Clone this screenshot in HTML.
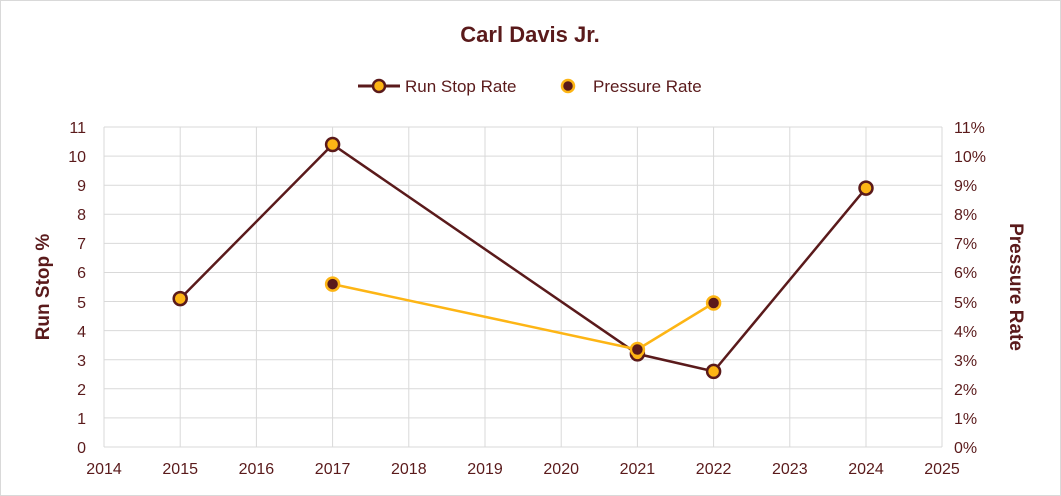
<!DOCTYPE html>
<html><head><style>body{margin:0;background:#fff}svg{display:block}text{font-family:"Liberation Sans",sans-serif;fill:#5a1a1b}</style></head><body>
<svg width="1061" height="496" viewBox="0 0 1061 496">
<rect x="0.5" y="0.5" width="1060" height="495" fill="#fff" stroke="#d9d9d9"/>
<g stroke="#d9d9d9" stroke-width="1">
<line x1="104" y1="447" x2="942" y2="447"/><line x1="104" y1="417.9" x2="942" y2="417.9"/><line x1="104" y1="388.8" x2="942" y2="388.8"/><line x1="104" y1="359.7" x2="942" y2="359.7"/><line x1="104" y1="330.6" x2="942" y2="330.6"/><line x1="104" y1="301.5" x2="942" y2="301.5"/><line x1="104" y1="272.5" x2="942" y2="272.5"/><line x1="104" y1="243.4" x2="942" y2="243.4"/><line x1="104" y1="214.3" x2="942" y2="214.3"/><line x1="104" y1="185.2" x2="942" y2="185.2"/><line x1="104" y1="156.1" x2="942" y2="156.1"/><line x1="104" y1="127" x2="942" y2="127"/>
<line x1="104" y1="127" x2="104" y2="447"/><line x1="180.2" y1="127" x2="180.2" y2="447"/><line x1="256.4" y1="127" x2="256.4" y2="447"/><line x1="332.6" y1="127" x2="332.6" y2="447"/><line x1="408.8" y1="127" x2="408.8" y2="447"/><line x1="485" y1="127" x2="485" y2="447"/><line x1="561.2" y1="127" x2="561.2" y2="447"/><line x1="637.4" y1="127" x2="637.4" y2="447"/><line x1="713.6" y1="127" x2="713.6" y2="447"/><line x1="789.8" y1="127" x2="789.8" y2="447"/><line x1="866" y1="127" x2="866" y2="447"/><line x1="942" y1="127" x2="942" y2="447"/>
</g>
<text x="530" y="42" text-anchor="middle" font-size="22" font-weight="bold">Carl Davis Jr.</text>
<line x1="358" y1="86" x2="400" y2="86" stroke="#5a1a1b" stroke-width="3"/><circle cx="379" cy="86" r="6" fill="#fdb515" stroke="#5a1a1b" stroke-width="2.5"/>
<text x="405" y="92" font-size="17">Run Stop Rate</text>
<circle cx="568" cy="86" r="6" fill="#5a1a1b" stroke="#fdb515" stroke-width="2.5"/>
<text x="593" y="92" font-size="17">Pressure Rate</text>
<g font-size="16" text-anchor="end">
<text x="86" y="453">0</text><text x="86" y="424">1</text><text x="86" y="395">2</text><text x="86" y="366">3</text><text x="86" y="337">4</text><text x="86" y="308">5</text><text x="86" y="278">6</text><text x="86" y="249">7</text><text x="86" y="220">8</text><text x="86" y="191">9</text><text x="86" y="162">10</text><text x="86" y="133">11</text>
</g>
<g font-size="16" text-anchor="start">
<text x="954" y="453">0%</text><text x="954" y="424">1%</text><text x="954" y="395">2%</text><text x="954" y="366">3%</text><text x="954" y="337">4%</text><text x="954" y="308">5%</text><text x="954" y="278">6%</text><text x="954" y="249">7%</text><text x="954" y="220">8%</text><text x="954" y="191">9%</text><text x="954" y="162">10%</text><text x="954" y="133">11%</text>
</g>
<g font-size="16" text-anchor="middle">
<text x="104" y="474">2014</text><text x="180.2" y="474">2015</text><text x="256.4" y="474">2016</text><text x="332.6" y="474">2017</text><text x="408.8" y="474">2018</text><text x="485" y="474">2019</text><text x="561.2" y="474">2020</text><text x="637.4" y="474">2021</text><text x="713.6" y="474">2022</text><text x="789.8" y="474">2023</text><text x="866" y="474">2024</text><text x="942" y="474">2025</text>
</g>
<text transform="translate(49,287) rotate(-90)" text-anchor="middle" font-size="19" font-weight="bold">Run Stop %</text>
<text transform="translate(1010,287) rotate(90)" text-anchor="middle" font-size="19" font-weight="bold">Pressure Rate</text>
<polyline points="180.2,298.6 332.6,144.5 637.4,353.9 713.6,371.4 866,188.1" fill="none" stroke="#5a1a1b" stroke-width="2.5"/>
<polyline points="332.6,284.1 637.4,349.5 713.6,303" fill="none" stroke="#fdb515" stroke-width="2.5"/>
<g fill="#fdb515" stroke="#5a1a1b" stroke-width="2.5">
<circle cx="180.2" cy="298.6" r="6.5"/><circle cx="332.6" cy="144.5" r="6.5"/><circle cx="637.4" cy="353.9" r="6.5"/><circle cx="713.6" cy="371.4" r="6.5"/><circle cx="866" cy="188.1" r="6.5"/>
</g>
<g fill="#5a1a1b" stroke="#fdb515" stroke-width="2.5">
<circle cx="332.6" cy="284.1" r="6.5"/><circle cx="637.4" cy="349.5" r="6.5"/><circle cx="713.6" cy="303" r="6.5"/>
</g>
</svg>
</body></html>
